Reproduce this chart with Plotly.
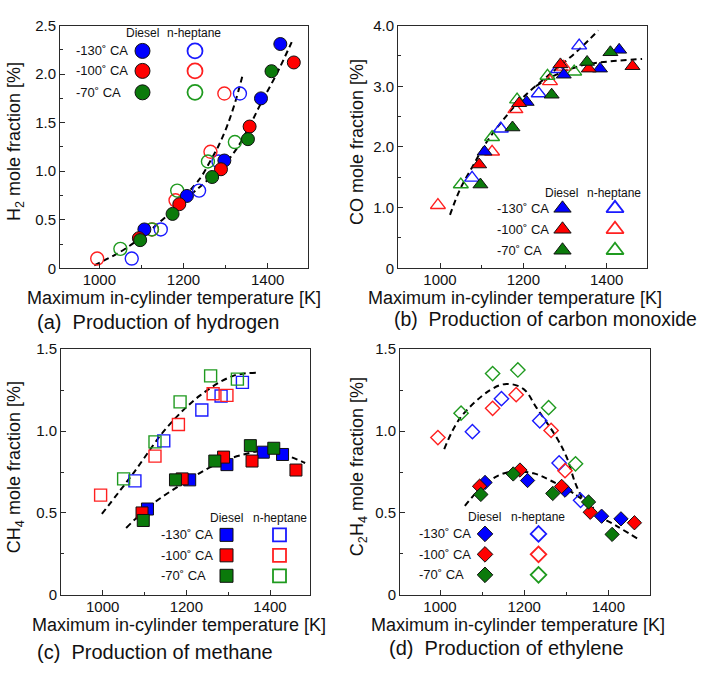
import plotly.graph_objects as go

W, H = 702, 673

# ---------------- data ----------------
# Maximum in-cylinder temperature [K] per fuel / injection timing
temp_diesel_130 = [1107, 1208, 1297, 1384, 1430]
temp_diesel_100 = [1094, 1190, 1289, 1357, 1462]
temp_diesel_70 = [1097, 1174, 1268, 1353, 1409]
temp_hept_130 = [1077, 1146, 1237, 1283, 1334]
temp_hept_100 = [995, 1125, 1181, 1264, 1297]
temp_hept_70 = [1050, 1125, 1185, 1258, 1322]

# H2 mole fraction [%]
h2_diesel_130 = [0.40, 0.745, 1.11, 1.75, 2.31]
h2_diesel_100 = [0.31, 0.66, 1.02, 1.46, 2.12]
h2_diesel_70 = [0.29, 0.56, 0.94, 1.33, 2.03]
h2_hept_130 = [0.10, 0.40, 0.80, 1.10, 1.80]
h2_hept_100 = [0.10, 0.40, 0.70, 1.20, 1.80]
h2_hept_70 = [0.20, 0.40, 0.80, 1.10, 1.30]

# CO mole fraction [%]
co_diesel_130 = [1.92, 2.74, 3.19, 3.29, 3.60]
co_diesel_100 = [1.71, 2.72, 3.36, 3.29, 3.33]
co_diesel_70 = [1.38, 2.32, 2.86, 3.40, 3.56]
co_hept_130 = [1.49, 2.30, 2.88, 3.28, 3.67]
co_hept_100 = [1.04, 1.92, 2.62, 3.08, 3.32]
co_hept_70 = [1.38, 2.16, 2.78, 3.17, 3.24]

# CH4 mole fraction [%]
ch4_diesel_130 = [0.524, 0.702, 0.795, 0.871, 0.857]
ch4_diesel_100 = [0.50, 0.708, 0.841, 0.817, 0.762]
ch4_diesel_70 = [0.454, 0.702, 0.817, 0.911, 0.895]
ch4_hept_130 = [0.696, 0.940, 1.129, 1.214, 1.297]
ch4_hept_100 = [0.609, 0.847, 1.04, 1.228, 1.218]
ch4_hept_70 = [0.708, 0.934, 1.178, 1.337, 1.317]

# C2H4 mole fraction [%]
c2h4_diesel_130 = [0.686, 0.698, 0.639, 0.480, 0.464]
c2h4_diesel_100 = [0.663, 0.762, 0.662, 0.504, 0.44]
c2h4_diesel_70 = [0.613, 0.738, 0.619, 0.567, 0.369]
c2h4_hept_130 = [0.996, 1.198, 1.063, 0.805, 0.577]
c2h4_hept_100 = [0.96, 1.139, 1.222, 1.004, 0.758]
c2h4_hept_70 = [1.109, 1.351, 1.373, 1.143, 0.80]

# Trend curves (dashed)
h2_trend_diesel_t = [988, 1050, 1100, 1150, 1207, 1250, 1295, 1326, 1354, 1384, 1421, 1457]
h2_trend_diesel_y = [0.03, 0.17, 0.32, 0.50, 0.72, 0.88, 1.06, 1.23, 1.44, 1.70, 2.0, 2.33]
h2_trend_hept_t = [1200, 1240, 1263, 1283, 1303, 1322, 1341]
h2_trend_hept_y = [0.73, 0.93, 1.10, 1.26, 1.46, 1.70, 2.0]

co_trend_hept_t = [1024, 1048, 1080, 1112, 1152, 1200, 1264, 1328, 1380]
co_trend_hept_y = [0.88, 1.30, 1.70, 2.08, 2.45, 2.82, 3.20, 3.57, 3.92]
co_trend_diesel_t = [1230, 1264, 1296, 1344, 1408, 1485]
co_trend_diesel_y = [3.0, 3.14, 3.24, 3.35, 3.41, 3.45]

ch4_trend_hept_t = [998, 1073, 1153, 1233, 1312, 1368]
ch4_trend_hept_y = [0.494, 0.742, 1.02, 1.218, 1.337, 1.357]
ch4_trend_diesel_t = [1056, 1113, 1193, 1273, 1328, 1392, 1440, 1484]
ch4_trend_diesel_y = [0.408, 0.543, 0.682, 0.80, 0.851, 0.881, 0.851, 0.805]

c2h4_trend_hept_t = [1010, 1048, 1119, 1158, 1198, 1230, 1277, 1301, 1325, 1357, 1420, 1475]
c2h4_trend_hept_y = [0.89, 1.08, 1.25, 1.288, 1.258, 1.14, 0.96, 0.84, 0.66, 0.52, 0.42, 0.335]
c2h4_trend_diesel_t = [1059, 1100, 1140, 1172, 1222, 1261, 1317, 1365]
c2h4_trend_diesel_y = [0.543, 0.66, 0.73, 0.752, 0.742, 0.70, 0.62, 0.53]

timing_labels = ["-130˚ CA", "-100˚ CA", "-70˚ CA"]
fuel_labels = ["Diesel", "n-heptane"]
x_ticks = [1000, 1200, 1400]

# ---------------- styling ----------------
FONT = "Liberation Sans, Arial, Helvetica, sans-serif"
TXT = "#111111"
AX = "#2a2a2a"
filled_colors = ["#0000ff", "#ff0000", "#0b7a0b"]
open_colors = ["#1a1aff", "#ff2020", "#1f9a1f"]

temps_diesel = [temp_diesel_130, temp_diesel_100, temp_diesel_70]
temps_hept = [temp_hept_130, temp_hept_100, temp_hept_70]

panels = [
    dict(box=(60, 308, 17, 266), xr=(906.6, 1495.7), yr=(0, 2.5),
         yt=[0, 0.5, 1.0, 1.5, 2.0, 2.5], ytt=["0", "0.5", "1.0", "1.5", "2.0", "2.5"],
         ymin=[0.25, 0.75, 1.25, 1.75, 2.25],
         diesel=[h2_diesel_130, h2_diesel_100, h2_diesel_70],
         hept=[h2_hept_130, h2_hept_100, h2_hept_70],
         trends=[(h2_trend_diesel_t, h2_trend_diesel_y), (h2_trend_hept_t, h2_trend_hept_y)],
         sym="circle", size=13, lsize=15,
         ytitle="H<sub>2</sub> mole fraction [%]", ytx=15,
         caption="(a)  Production of hydrogen", cap_size=20,
         cap_x=35, cap_y=321, xt_x=174, xt_y=296,
         leg=dict(hx=(142, 194), hy=25, rows=(43, 63.5, 85.5), lx=74, mx=(142.5, 195))),
    dict(box=(398, 647, 17, 266), xr=(899.2, 1496.8), yr=(0, 4.0),
         yt=[0, 1, 2, 3, 4], ytt=["0", "1.0", "2.0", "3.0", "4.0"],
         ymin=[0.5, 1.5, 2.5, 3.5],
         diesel=[co_diesel_130, co_diesel_100, co_diesel_70],
         hept=[co_hept_130, co_hept_100, co_hept_70],
         trends=[(co_trend_hept_t, co_trend_hept_y), (co_trend_diesel_t, co_trend_diesel_y)],
         sym="triangle-up", size=13, lsize=15,
         ytitle="CO mole fraction [%]", ytx=357,
         caption="(b)  Production of carbon monoxide", cap_size=19.4,
         cap_x=392, cap_y=318, xt_x=515, xt_y=296,
         leg=dict(hx=(561, 614), hy=188.5, rows=(204.5, 226, 247.5), lx=495, mx=(562.5, 615))),
    dict(box=(61, 310, 349, 601), xr=(900.3, 1495.6), yr=(0, 1.5),
         yt=[0, 0.5, 1.0, 1.5], ytt=["0", "0.5", "1.0", "1.5"],
         ymin=[0.25, 0.75, 1.25],
         diesel=[ch4_diesel_130, ch4_diesel_100, ch4_diesel_70],
         hept=[ch4_hept_130, ch4_hept_100, ch4_hept_70],
         trends=[(ch4_trend_hept_t, ch4_trend_hept_y), (ch4_trend_diesel_t, ch4_trend_diesel_y)],
         sym="square", size=12, lsize=13,
         ytitle="CH<sub>4</sub> mole fraction [%]", ytx=15,
         caption="(c)  Production of methane", cap_size=20,
         cap_x=35, cap_y=660, xt_x=179, xt_y=632,
         leg=dict(hx=(226.5, 280), hy=522.5, rows=(539.5, 560.5, 581.5), lx=159, mx=(226.5, 279.5))),
    dict(box=(400, 650, 349, 601), xr=(904.9, 1499.0), yr=(0, 1.5),
         yt=[0, 0.5, 1.0, 1.5], ytt=["0", "0.5", "1.0", "1.5"],
         ymin=[0.25, 0.75, 1.25],
         diesel=[c2h4_diesel_130, c2h4_diesel_100, c2h4_diesel_70],
         hept=[c2h4_hept_130, c2h4_hept_100, c2h4_hept_70],
         trends=[(c2h4_trend_hept_t, c2h4_trend_hept_y), (c2h4_trend_diesel_t, c2h4_trend_diesel_y)],
         sym="diamond", size=11, lsize=12,
         ytitle="C<sub>2</sub>H<sub>4</sub> mole fraction [%]", ytx=358,
         caption="(d)  Production of ethylene", cap_size=20,
         cap_x=387, cap_y=656, xt_x=518, xt_y=632,
         leg=dict(hx=(485, 538), hy=521.5, rows=(538.5, 559.5, 580.5), lx=417, mx=(485, 538.5))),
]


def px(x):
    return x / W


def py(y):
    return 1 - y / H


fig = go.Figure()
layout = dict(
    width=W, height=H, margin=dict(l=0, r=0, t=0, b=0),
    paper_bgcolor="white", plot_bgcolor="rgba(0,0,0,0)", showlegend=False,
    font=dict(family=FONT, color=TXT, size=15),
)
annotations = []

for i, p in enumerate(panels, start=1):
    xa, ya = f"x{i}", f"y{i}"
    x0, x1, y0, y1 = p["box"]
    axis_common = dict(
        showline=True, linecolor=AX, linewidth=1, mirror=True,
        ticks="inside", ticklen=5, tickwidth=1, tickcolor=AX,
        showgrid=False, zeroline=False,
        tickfont=dict(family=FONT, size=15, color=TXT),
    )
    layout[f"xaxis{i}"] = dict(
        axis_common, domain=[px(x0), px(x1)], anchor=ya, range=list(p["xr"]),
        tickvals=x_ticks, ticktext=[str(v) for v in x_ticks], ticklabelstandoff=-2,
        minor=dict(tickvals=[1100, 1300], ticks="inside", ticklen=3, tickcolor=AX),
    )
    layout[f"yaxis{i}"] = dict(
        axis_common, domain=[py(y1), py(y0)], anchor=xa, range=list(p["yr"]),
        tickvals=p["yt"], ticktext=p["ytt"],
        minor=dict(tickvals=p["ymin"], ticks="inside", ticklen=3, tickcolor=AX),
    )

    # dashed trend curves
    for tx, ty in p["trends"]:
        fig.add_trace(go.Scatter(
            x=tx, y=ty, mode="lines", xaxis=xa, yaxis=ya, hoverinfo="skip",
            line=dict(color="black", width=2, dash="6px,4px", shape="spline", smoothing=1.0),
        ))
    # n-heptane (open) then diesel (filled)
    for k in range(3):
        fig.add_trace(go.Scatter(
            x=temps_hept[k], y=p["hept"][k], mode="markers", xaxis=xa, yaxis=ya,
            marker=dict(symbol=p["sym"] + "-open", size=p["size"], color=open_colors[k],
                        line=dict(width=1.4, color=open_colors[k])),
        ))
    for k in range(3):
        fig.add_trace(go.Scatter(
            x=temps_diesel[k], y=p["diesel"][k], mode="markers", xaxis=xa, yaxis=ya,
            marker=dict(symbol=p["sym"], size=p["size"], color=filled_colors[k],
                        line=dict(width=1, color="#111111")),
        ))

    # axis titles and caption
    annotations.append(dict(
        text="Maximum in-cylinder temperature [K]", x=px(p["xt_x"]), y=py(p["xt_y"]),
        xref="paper", yref="paper", xanchor="center", yanchor="middle", showarrow=False,
        font=dict(family=FONT, size=18, color=TXT)))
    annotations.append(dict(
        text=p["caption"], x=px(p["cap_x"]), y=py(p["cap_y"]),
        xref="paper", yref="paper", xanchor="left", yanchor="middle", showarrow=False,
        font=dict(family=FONT, size=p["cap_size"], color=TXT)))
    annotations.append(dict(
        text=p["ytitle"], x=px(p["ytx"]), y=py((y0 + y1) / 2 - 5),
        xref="paper", yref="paper", xanchor="center", yanchor="middle", showarrow=False,
        textangle=-90, font=dict(family=FONT, size=18, color=TXT)))

    # in-plot key: headers, row labels, markers (on a full-page pixel overlay)
    lg = p["leg"]
    for name, hx in zip(fuel_labels, lg["hx"]):
        annotations.append(dict(
            text=name, x=px(hx), y=py(lg["hy"]), xref="paper", yref="paper",
            xanchor="center", yanchor="middle", showarrow=False,
            font=dict(family=FONT, size=12, color=TXT)))
    for k, (lab, ry) in enumerate(zip(timing_labels, lg["rows"])):
        annotations.append(dict(
            text=lab, x=px(lg["lx"]), y=py(ry), xref="paper", yref="paper",
            xanchor="left", yanchor="middle", showarrow=False,
            font=dict(family=FONT, size=13, color=TXT)))
    fig.add_trace(go.Scatter(
        x=[lg["mx"][0]] * 3, y=list(lg["rows"]), mode="markers", xaxis="x9", yaxis="y9",
        marker=dict(symbol=p["sym"], size=p["lsize"], color=filled_colors,
                    line=dict(width=1, color="#111111")),
    ))
    fig.add_trace(go.Scatter(
        x=[lg["mx"][1]] * 3, y=list(lg["rows"]), mode="markers", xaxis="x9", yaxis="y9",
        marker=dict(symbol=p["sym"] + "-open", size=p["lsize"], color=open_colors,
                    line=dict(width=1.8, color=open_colors)),
    ))

layout["xaxis9"] = dict(domain=[0, 1], range=[0, W], visible=False, anchor="y9", fixedrange=True)
layout["yaxis9"] = dict(domain=[0, 1], range=[H, 0], visible=False, anchor="x9", fixedrange=True)
layout["annotations"] = annotations
fig.update_layout(**layout)
fig.write_html("out.html")
